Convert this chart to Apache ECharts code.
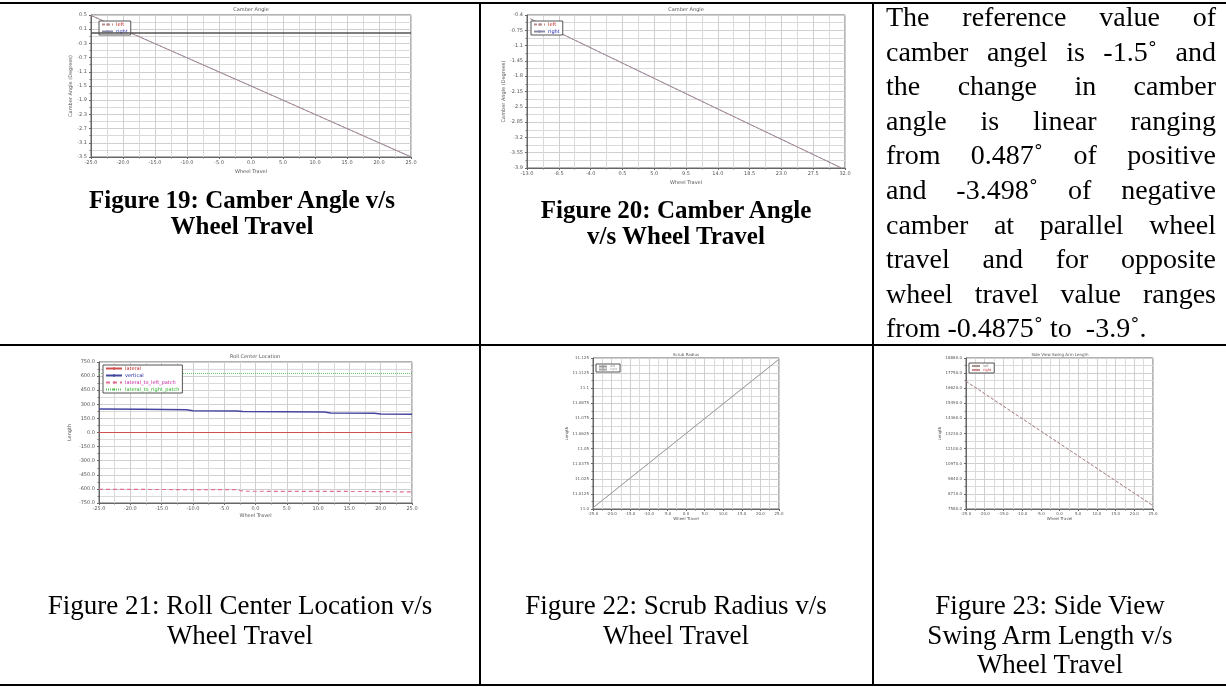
<!DOCTYPE html>
<html><head><meta charset="utf-8">
<script src="https://cdn.jsdelivr.net/npm/echarts@6/dist/echarts.min.js"></script>
<style>
html,body{margin:0;padding:0;background:#fff;width:1226px;height:687px;overflow:hidden;}
#chart{position:absolute;left:0;top:0;width:1226px;height:687px;}
.ln{position:absolute;background:#000;}
.cap{position:absolute;font-family:"Liberation Serif","Times New Roman",serif;color:#000;text-align:center;white-space:nowrap;}
.b{font-weight:bold;font-size:25px;line-height:26px;}
.r{font-size:27px;line-height:29.5px;}
#para{position:absolute;left:886px;top:0px;width:330px;font-family:"Liberation Serif","Times New Roman",serif;font-size:28px;line-height:34.6px;color:#000;}
#para div{text-align:justify;text-align-last:justify;white-space:nowrap;}
#para div.last{text-align:left;text-align-last:left;white-space:pre;}
</style></head>
<body>
<div id="chart"></div>
<div class="ln" style="left:0;top:2px;width:1226px;height:2px"></div>
<div class="ln" style="left:0;top:344px;width:1226px;height:2px"></div>
<div class="ln" style="left:0;top:684px;width:1226px;height:2px"></div>
<div class="ln" style="left:479px;top:2px;width:2px;height:684px"></div>
<div class="ln" style="left:872px;top:2px;width:2px;height:684px"></div>

<div class="cap b" style="left:42px;width:400px;top:187px">Figure 19: Camber Angle v/s<br>Wheel Travel</div>
<div class="cap b" style="left:476px;width:400px;top:197px">Figure 20: Camber Angle<br>v/s Wheel Travel</div>
<div id="para">
<div>The reference value of</div>
<div>camber angel is -1.5˚ and</div>
<div>the change in camber</div>
<div>angle is linear ranging</div>
<div>from 0.487˚ of positive</div>
<div>and -3.498˚ of negative</div>
<div>camber at parallel wheel</div>
<div>travel and for opposite</div>
<div>wheel travel value ranges</div>
<div class="last">from -0.4875˚ to  -3.9˚.</div>
</div>
<div class="cap r" style="left:0px;width:480px;top:591px">Figure 21: Roll Center Location v/s<br>Wheel Travel</div>
<div class="cap r" style="left:476px;width:400px;top:591px">Figure 22: Scrub Radius v/s<br>Wheel Travel</div>
<div class="cap r" style="left:874px;width:352px;top:591px">Figure 23: Side View<br>Swing Arm Length v/s<br>Wheel Travel</div>

<script>
// ---------- Figure 19: Camber Angle (parallel wheel travel) ----------
const c19_xTicks = [-25, -20, -15, -10, -5, 0, 5, 10, 15, 20, 25];
const c19_yTicks = [0.5, 0.1, -0.3, -0.7, -1.1, -1.5, -1.9, -2.3, -2.7, -3.1, -3.5];
const c19_x = [-25, 0, 25];
const c19_left = [0.487, -1.5, -3.498];
const c19_right = [0.487, -1.5, -3.498];
const c19_refLine = 0.0;

// ---------- Figure 20: Camber Angle (opposite wheel travel) ----------
const c20_xTicks = [-13.0, -8.5, -4.0, 0.5, 5.0, 9.5, 14.0, 18.5, 23.0, 27.5, 32.0];
const c20_yTicks = [-0.4, -0.75, -1.1, -1.45, -1.8, -2.15, -2.5, -2.85, -3.2, -3.55, -3.9];
const c20_x = [-12.5, 0.5, 14.0, 31.5];
const c20_left = [-0.4875, -1.5, -2.55, -3.9];
const c20_right = [-0.4875, -1.5, -2.55, -3.9];

// ---------- Figure 21: Roll Center Location ----------
const c21_xTicks = [-25, -20, -15, -10, -5, 0, 5, 10, 15, 20, 25];
const c21_yTicks = [750, 600, 450, 300, 150, 0, -150, -300, -450, -600, -750];
const c21_x = [-25, -18, -11, -10, -3, -2, 11, 12, 19, 20, 25];
const c21_lateral = [0, 0, 0, 0, 0, 0, 0, 0, 0, 0, 0];
const c21_vertical = [250, 247, 243, 232, 229, 224, 219, 208, 204, 198, 193];
const c21_leftPatch = [-605, -606, -607, -607, -608, -625, -626, -627, -628, -629, -632];
const c21_rightPatch = [628, 628, 628, 628, 628, 628, 628, 628, 628, 628, 628];

// ---------- Figure 22: Scrub Radius ----------
const c22_xTicks = [-25, -20, -15, -10, -5, 0, 5, 10, 15, 20, 25];
const c22_yTicks = [11.0, 11.0125, 11.025, 11.0375, 11.05, 11.0625, 11.075, 11.0875, 11.1, 11.1125, 11.125];
const c22_x = [-25, 25];
const c22_left = [11.001, 11.124];
const c22_right = [11.001, 11.124];

// ---------- Figure 23: Side View Swing Arm Length ----------
const c23_xTicks = [-25, -20, -15, -10, -5, 0, 5, 10, 15, 20, 25];
const c23_yTicks = [7580, 8710, 9840, 10970, 12100, 13230, 14360, 15490, 16620, 17750, 18880];
const c23_x = [-25, 25];
const c23_left = [17140, 7830];
const c23_right = [17140, 7830];

// ---------- helpers ----------
const zip = (xs, ys) => xs.map((x, i) => [x, ys[i]]);
const fix1 = v => (+v).toFixed(1);
const fmtShort = v => { let s = String(+(+v).toFixed(4)); if (s.indexOf('.') < 0) s += '.0'; return s; };
const fmtPlain = v => String(+(+v).toFixed(4));
const FONT = 'DejaVu Sans';

function axisFrom(ticks, gi, kind, o) {
  const mn = Math.min(...ticks), mx = Math.max(...ticks);
  const iv = (mx - mn) / (ticks.length - 1);
  return {
    type: 'value', gridIndex: gi, min: mn, max: mx, interval: iv,
    name: o.name, nameLocation: 'middle', nameGap: o.nameGap,
    nameRotate: kind === 'y' ? 90 : 0,
    nameTextStyle: { fontSize: o.fs, color: '#555', fontFamily: FONT },
    axisLine: { show: true, onZero: false, lineStyle: { color: '#666', width: 1 } },
    axisTick: { show: true, length: 2, lineStyle: { color: '#666' } },
    minorTick: { show: true, splitNumber: 2, length: 1.5, lineStyle: { color: '#777' } },
    splitLine: { show: true, lineStyle: { color: '#cfcfcf', width: 1 } },
    minorSplitLine: { show: true, lineStyle: { color: '#dadada', width: 1 } },
    axisLabel: { fontSize: o.fs, color: '#555', margin: o.margin, fontFamily: FONT,
      formatter: o.fmt, showMinLabel: true, showMaxLabel: true },
  };
}

const G = [
  { left: 91, top: 15, width: 320, height: 142 },
  { left: 527, top: 15, width: 318, height: 153 },
  { left: 99, top: 362, width: 313, height: 141 },
  { left: 593, top: 358, width: 186, height: 151 },
  { left: 966, top: 358, width: 187, height: 151 },
];

const xAxes = [
  axisFrom(c19_xTicks, 0, 'x', { name: 'Wheel Travel', nameGap: 12, fs: 5, margin: 3, fmt: fix1 }),
  axisFrom(c20_xTicks, 1, 'x', { name: 'Wheel Travel', nameGap: 12, fs: 5, margin: 3, fmt: fix1 }),
  axisFrom(c21_xTicks, 2, 'x', { name: 'Wheel Travel', nameGap: 10, fs: 5, margin: 3, fmt: fix1 }),
  axisFrom(c22_xTicks, 3, 'x', { name: 'Wheel Travel', nameGap: 8, fs: 4, margin: 3, fmt: fix1 }),
  axisFrom(c23_xTicks, 4, 'x', { name: 'Wheel Travel', nameGap: 8, fs: 4, margin: 3, fmt: fix1 }),
];
const yAxes = [
  axisFrom(c19_yTicks, 0, 'y', { name: 'Camber Angle (Degrees)', nameGap: 18, fs: 5, margin: 4, fmt: fix1 }),
  axisFrom(c20_yTicks, 1, 'y', { name: 'Camber Angle (Degrees)', nameGap: 21, fs: 5, margin: 4, fmt: fmtPlain }),
  axisFrom(c21_yTicks, 2, 'y', { name: 'Length', nameGap: 27, fs: 5, margin: 4, fmt: fix1 }),
  axisFrom(c22_yTicks, 3, 'y', { name: 'Length', nameGap: 21, fs: 4, margin: 4, fmt: fmtShort }),
  axisFrom(c23_yTicks, 4, 'y', { name: 'Length', nameGap: 21, fs: 4, margin: 4, fmt: fix1 }),
];

function line(id, gi, xs, ys, color, width, type, extra) {
  return Object.assign({
    id: id, name: id, type: 'line', xAxisIndex: gi, yAxisIndex: gi, data: zip(xs, ys),
    symbol: 'none', silent: true, animation: false,
    lineStyle: { color: color, width: width, type: type }, itemStyle: { color: color },
  }, extra || {});
}

const series = [
  line('c19|right', 0, c19_x, c19_right, '#8a8aa8', 1, 'solid', {
    markLine: { silent: true, symbol: 'none', animation: false, label: { show: false },
      lineStyle: { color: '#555', width: 1.5, type: 'solid' }, data: [{ yAxis: c19_refLine }] }
  }),
  line('c19|left', 0, c19_x, c19_left, '#b88c8c', 1, [3, 2]),
  line('c20|right', 1, c20_x, c20_right, '#8a8aa8', 1, 'solid'),
  line('c20|left', 1, c20_x, c20_left, '#b88c8c', 1, [3, 2]),
  line('c21|lateral', 2, c21_x, c21_lateral, '#d05050', 1, 'solid'),
  line('c21|vertical', 2, c21_x, c21_vertical, '#4646a0', 1.5, 'solid'),
  line('c21|lateral_to_left_patch', 2, c21_x, c21_leftPatch, '#e0709a', 1.2, [4, 3]),
  line('c21|lateral_to_right_patch', 2, c21_x, c21_rightPatch, '#5fc45f', 1, [1, 1]),
  line('c22|right', 3, c22_x, c22_right, '#a8a8a8', 0.8, 'solid'),
  line('c22|left', 3, c22_x, c22_left, '#9a9a9a', 0.8, 'solid'),
  line('c23|right', 4, c23_x, c23_right, '#c88a8a', 0.9, [3, 2]),
  line('c23|left', 4, c23_x, c23_left, '#a89090', 0.9, [3, 2]),
];

function legend(left, top, items, fs, iw, gap) {
  return {
    left: left, top: top, orient: 'vertical', itemWidth: iw, itemHeight: 3, itemGap: gap,
    padding: [1, 3, 1, 2], backgroundColor: '#fff', borderColor: '#555', borderWidth: 1,
    borderRadius: 0, selectedMode: false,
    formatter: n => n.split('|')[1],
    textStyle: { fontSize: fs, fontFamily: FONT, padding: [0, 0, 0, -2] },
    data: items.map(it => ({ name: it[0], textStyle: { color: it[1] } })),
  };
}

const legends = [
  legend(99, 21, [['c19|left', '#c02020'], ['c19|right', '#2020b0']], 5, 11, 2),
  legend(531, 21, [['c20|left', '#c02020'], ['c20|right', '#2020b0']], 5, 11, 2),
  legend(103, 365, [['c21|lateral', '#c02020'], ['c21|vertical', '#2020a0'],
    ['c21|lateral_to_left_patch', '#c020a0'], ['c21|lateral_to_right_patch', '#20b020']], 5, 16, 2),
  legend(596, 364, [['c22|left', '#888'], ['c22|right', '#999']], 3, 8, 0),
  legend(969, 363, [['c23|left', '#888'], ['c23|right', '#c03030']], 3.5, 8, 0),
];

function title(x, y, text, fs) {
  return { type: 'text', x: x, y: y, silent: true,
    style: { text: text, fill: '#555', font: fs + 'px ' + FONT, align: 'center', verticalAlign: 'middle' } };
}

const option = {
  animation: false,
  backgroundColor: 'transparent',
  grid: G.map(g => Object.assign({ show: true, borderColor: '#666', borderWidth: 1, backgroundColor: '#fff',
    containLabel: false, outerBoundsMode: 'none' }, g)),
  xAxis: xAxes,
  yAxis: yAxes,
  legend: legends,
  series: series,
  graphic: [
    title(251, 10, 'Camber Angle', 5),
    title(686, 10, 'Camber Angle', 5),
    title(255, 357, 'Roll Center Location', 5),
    title(686, 354.5, 'Scrub Radius', 4),
    title(1060, 354.5, 'Side View Swing Arm Length', 4),
  ],
};

const chart = echarts.init(document.getElementById('chart'), null, { renderer: 'canvas' });
chart.setOption(option);
</script>
</body></html>
